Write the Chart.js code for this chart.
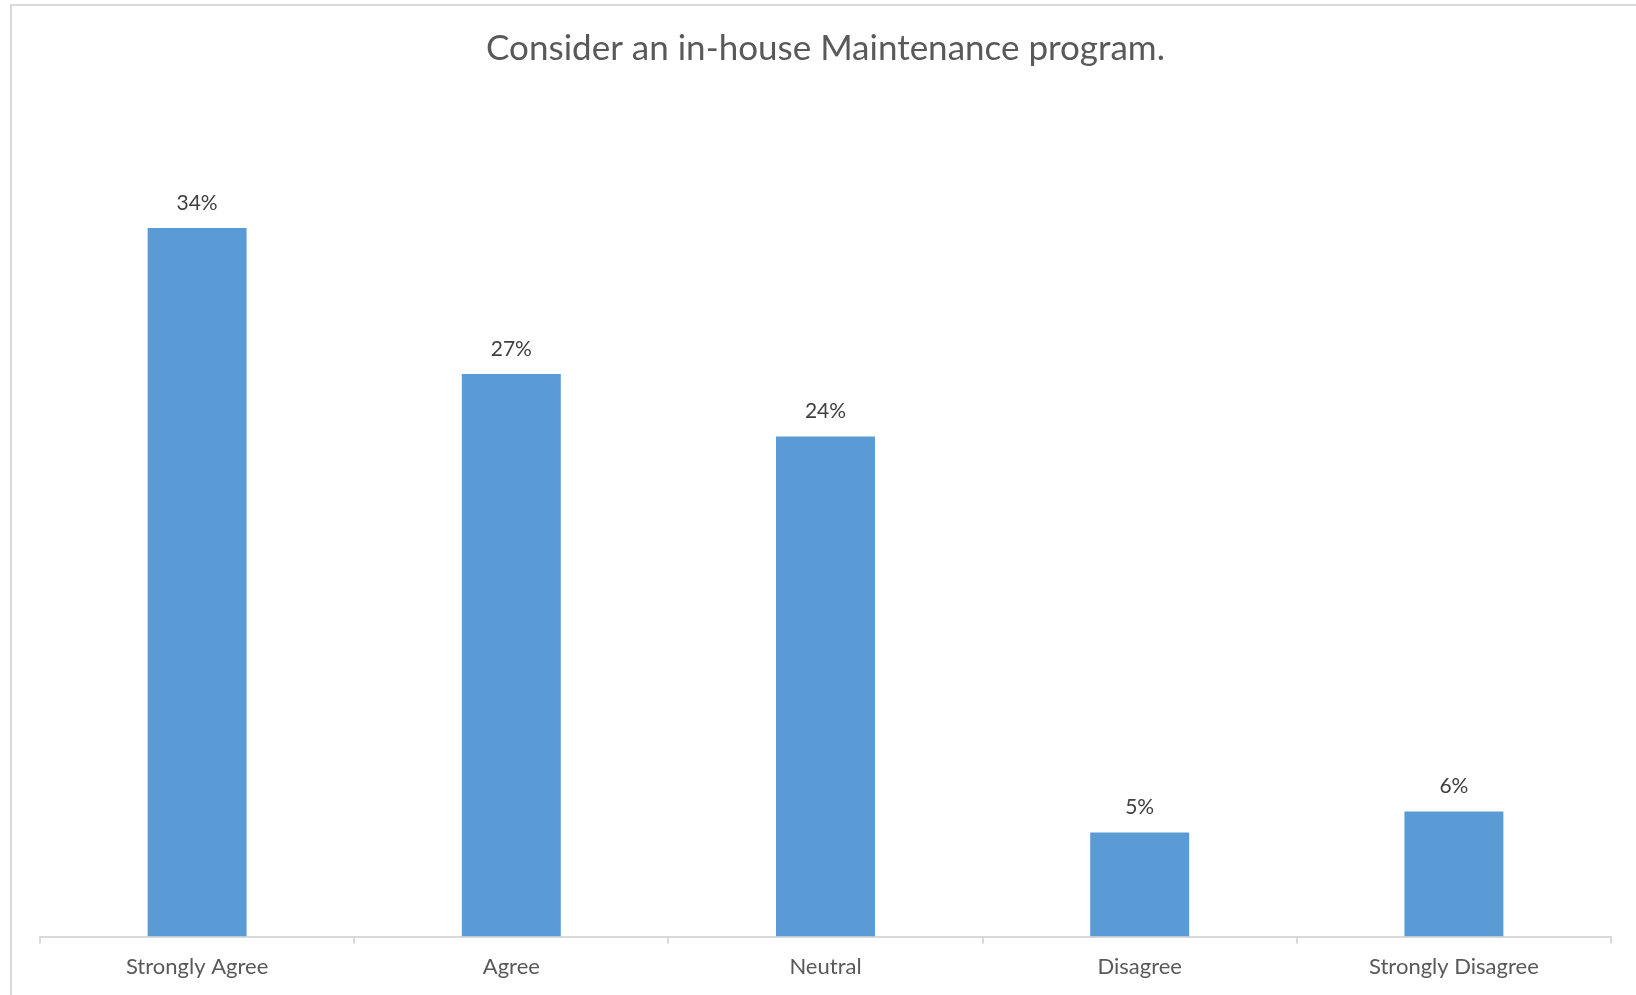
<!DOCTYPE html>
<html lang="en">
<head>
  <meta charset="UTF-8">
  <title>Consider an in-house Maintenance program.</title>
  <script src="https://cdn.jsdelivr.net/npm/chart.js@4"></script>
  <style>
    html, body { margin: 0; padding: 0; background: #fff; }
    .frame {
      position: absolute;
      left: 10px; top: 4px;
      width: 1700px; height: 1100px;
      border-left: 2px solid #d9d9d9;
      border-top: 2px solid #d9d9d9;
    }
    .wrap { position: absolute; left: 0; top: 0; width: 1636px; height: 995px; }
  </style>
</head>
<body>
  <div class="frame"></div>
  <div class="wrap">
    <canvas id="surveyChart"></canvas>
  </div>

  <script>
    const categories = ['Strongly Agree', 'Agree', 'Neutral', 'Disagree', 'Strongly Disagree'];
    const percents = [34, 27, 24, 5, 6];

    // draws "34%" etc. above each bar
    const barLabels = {
      id: 'barLabels',
      afterDatasetsDraw(chart) {
        const ctx = chart.ctx;
        const meta = chart.getDatasetMeta(0);
        ctx.save();
        ctx.font = '21px Lato';
        ctx.fillStyle = '#404040';
        ctx.textAlign = 'center';
        ctx.textBaseline = 'middle';
        meta.data.forEach((bar, i) => {
          ctx.fillText(percents[i] + '%', bar.x, bar.y - 25);
        });
        ctx.restore();
      }
    };

    const ctx = document.getElementById('surveyChart').getContext('2d');

    new Chart(ctx, {
      type: 'bar',
      data: {
        labels: categories,
        datasets: [{
          data: percents,
          backgroundColor: '#5b9bd5',
          borderWidth: 0,
          categoryPercentage: 1,
          barPercentage: 0.315
        }]
      },
      options: {
        responsive: true,
        maintainAspectRatio: false,
        animation: false,
        layout: { padding: { left: 40, right: 25, top: 0, bottom: 5 } },
        plugins: {
          legend: { display: false },
          tooltip: { enabled: false },
          title: {
            display: true,
            text: 'Consider an in-house Maintenance program.',
            color: '#595959',
            font: { family: 'Lato', size: 35, weight: 'normal' },
            padding: { top: 28, bottom: 33 }
          }
        },
        scales: {
          x: {
            grid: {
              drawOnChartArea: false,
              drawTicks: true,
              tickLength: 7,
              color: '#d9d9d9',
              lineWidth: 2
            },
            border: { color: '#d9d9d9', width: 2 },
            ticks: {
              color: '#595959',
              font: { family: 'Lato', size: 22 },
              padding: 10
            }
          },
          y: {
            display: false,
            min: 0,
            max: 40
          }
        }
      },
      plugins: [barLabels]
    });
  </script>
</body>
</html>
